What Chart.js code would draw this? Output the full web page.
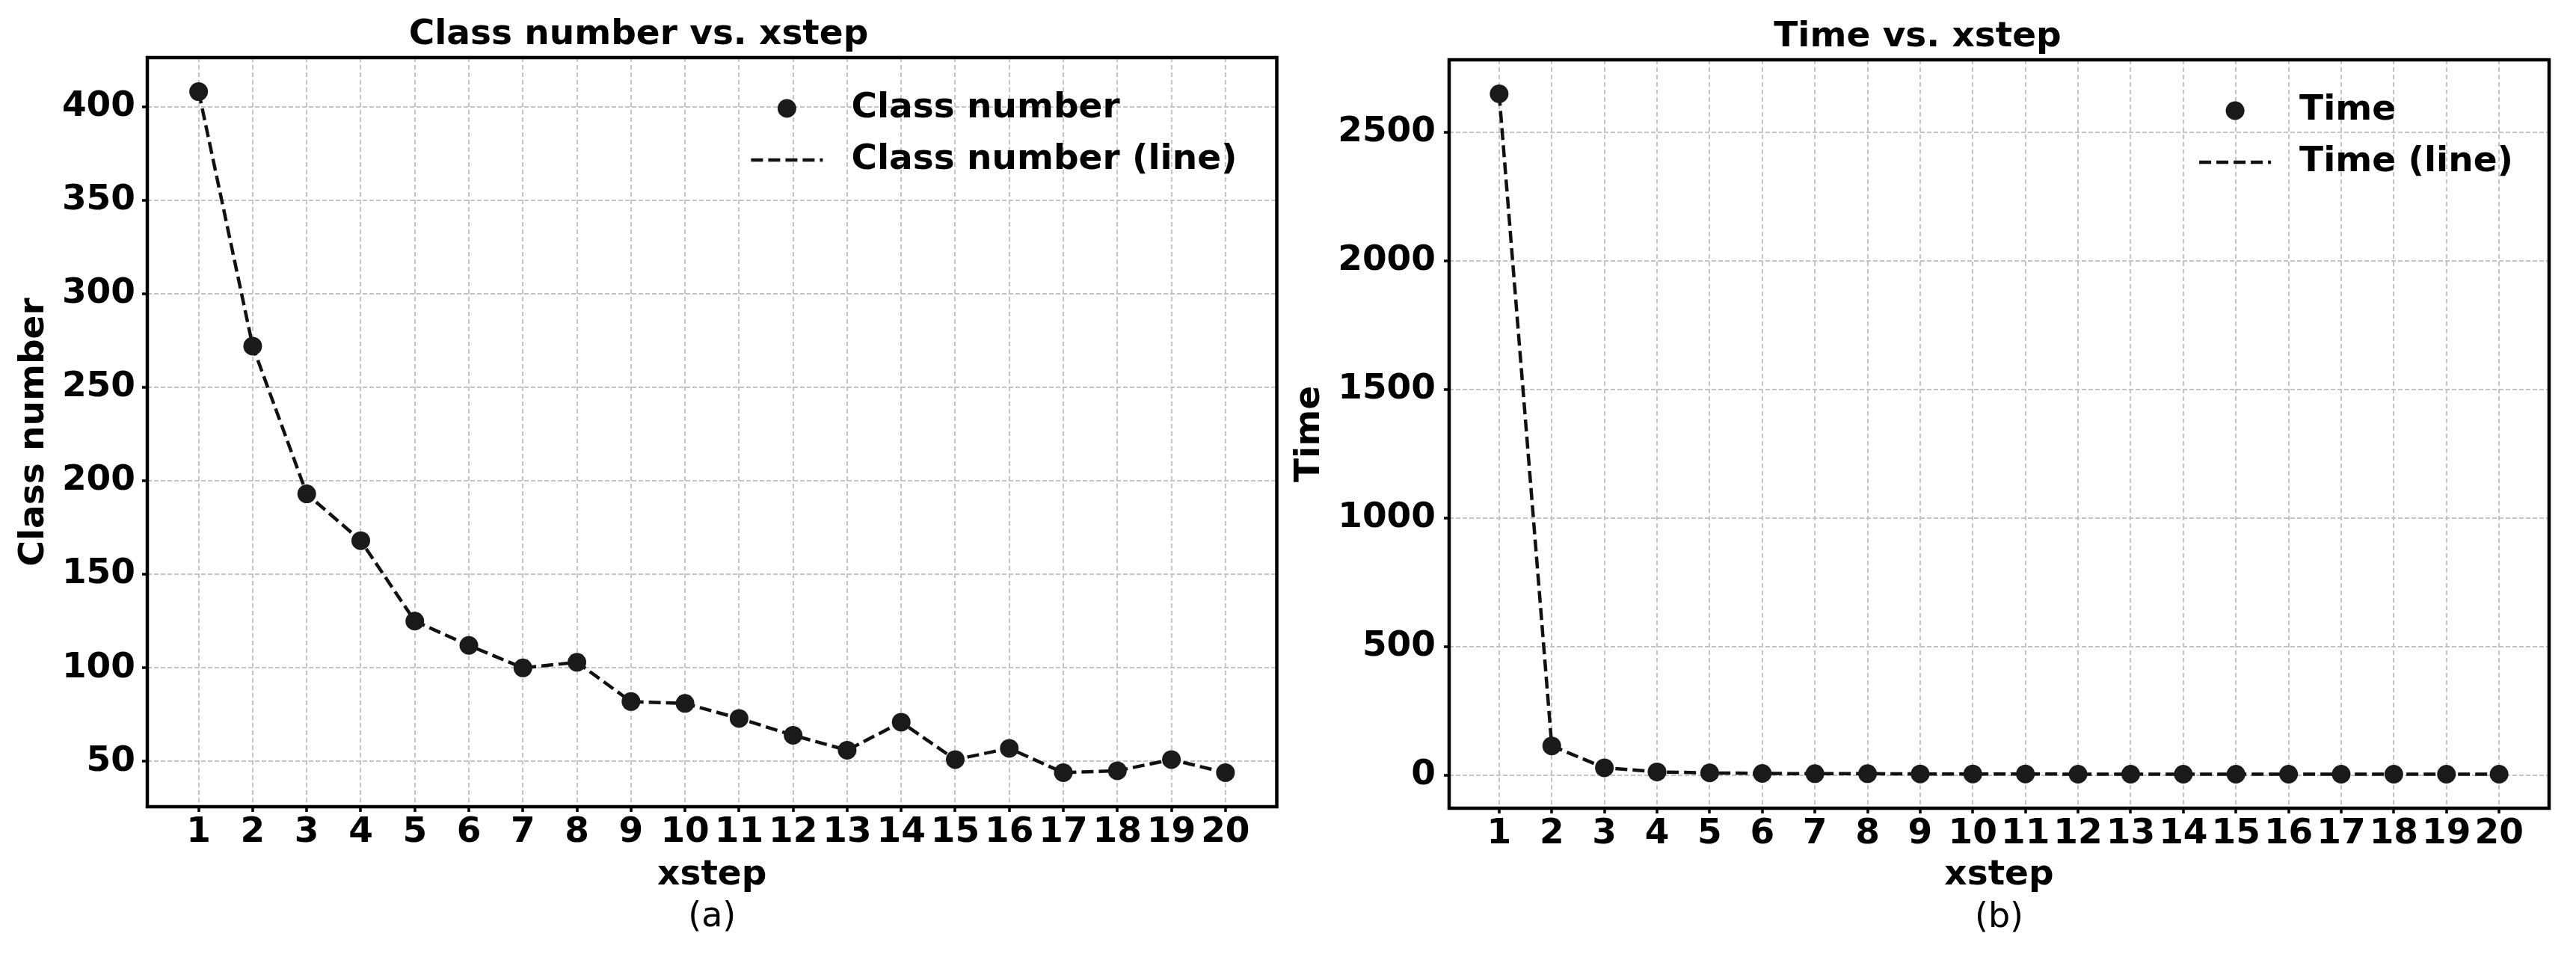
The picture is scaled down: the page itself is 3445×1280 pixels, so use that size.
<!DOCTYPE html>
<html>
<head>
<meta charset="utf-8">
<script src="https://cdn.jsdelivr.net/npm/chart.js@4.4.1/dist/chart.umd.min.js"></script>
<style>
html, body { margin: 0; padding: 0; background: #fff; width: 3445px; height: 1280px; overflow: hidden; }
canvas { position: absolute; top: 0; }
</style>
</head>
<body>
<canvas id="c1" width="1720" height="1280" style="left:0px"></canvas>
<canvas id="c2" width="1725" height="1280" style="left:1720px"></canvas>
<script>
// ---- data ----
const xSteps = [1, 2, 3, 4, 5, 6, 7, 8, 9, 10, 11, 12, 13, 14, 15, 16, 17, 18, 19, 20];
const classNumber = [408, 272, 193, 168, 125, 112, 100, 103, 82, 81, 73, 64, 56, 71, 51, 57, 44, 45, 51, 44];
const timeValues = [2650, 113, 28, 12, 8, 6, 5, 5, 4, 4, 4, 3, 3, 3, 3, 3, 3, 3, 3, 3];
const classTicks = [50, 100, 150, 200, 250, 300, 350, 400];
const timeTicks = [0, 500, 1000, 1500, 2000, 2500];

const FAMILY = '"DejaVu Sans", "Liberation Sans", sans-serif';
const MARK = '#1a1a1a';

const decor = {
  id: 'decor',
  afterDatasetsDraw(chart, args, o) {
    const { ctx, chartArea: a } = chart;
    ctx.save();
    // axes frame
    ctx.setLineDash([]);
    ctx.strokeStyle = '#000';
    ctx.lineWidth = 4.5;
    ctx.strokeRect(a.left, a.top, a.right - a.left, a.bottom - a.top);
    // legend
    const ds = chart.data.datasets;
    ctx.font = 'bold 47px ' + FAMILY;
    const w = Math.max(...ds.map(d => ctx.measureText(d.label).width));
    const tx = a.right - o.legendRight - w;
    const hx2 = tx - 38, hx1 = hx2 - 96;
    const r0 = a.top + 68, r1 = a.top + 137;
    ctx.fillStyle = ds[0].backgroundColor;
    ctx.beginPath();
    ctx.arc((hx1 + hx2) / 2, r0, ds[0].pointRadius, 0, Math.PI * 2);
    ctx.fill();
    ctx.strokeStyle = ds[1].borderColor;
    ctx.lineWidth = ds[1].borderWidth;
    ctx.setLineDash(ds[1].borderDash);
    ctx.beginPath();
    ctx.moveTo(hx1, r1);
    ctx.lineTo(hx2, r1);
    ctx.stroke();
    ctx.setLineDash([]);
    ctx.fillStyle = '#000';
    ctx.textAlign = 'left';
    ctx.textBaseline = 'middle';
    ctx.fillText(ds[0].label, tx, r0);
    ctx.fillText(ds[1].label, tx, r1);
    // sub caption
    ctx.font = '46px ' + FAMILY;
    ctx.textAlign = 'center';
    ctx.textBaseline = 'alphabetic';
    ctx.fillText(o.sub, (a.left + a.right) / 2, o.subBaseline);
    ctx.restore();
  }
};

function makeChart(id, cfg) {
  const vals = cfg.values;
  const vMin = Math.min(...vals), vMax = Math.max(...vals);
  const yPad = (vMax - vMin) * 0.05;
  const xPad = (xSteps[xSteps.length - 1] - xSteps[0]) * 0.05;
  const gridColor = '#c4c4c4';
  return new Chart(document.getElementById(id), {
    type: 'scatter',
    data: {
      datasets: [
        {
          label: cfg.name,
          data: xSteps.map((x, i) => ({ x: x, y: vals[i] })),
          showLine: false,
          pointRadius: 12.5,
          pointHoverRadius: 12.5,
          pointBorderWidth: 0,
          backgroundColor: MARK,
          borderColor: MARK
        },
        {
          label: cfg.name + ' (line)',
          data: xSteps.map((x, i) => ({ x: x, y: vals[i] })),
          showLine: true,
          pointRadius: 0,
          pointHoverRadius: 0,
          borderColor: '#111',
          backgroundColor: '#111',
          borderWidth: 4.5,
          borderDash: [16, 7],
          tension: 0
        }
      ]
    },
    options: {
      responsive: false,
      devicePixelRatio: 1,
      animation: false,
      events: [],
      layout: { padding: { left: 0, right: cfg.padRight, top: 0, bottom: 0 } },
      plugins: {
        legend: { display: false },
        tooltip: { enabled: false },
        title: {
          display: true,
          text: cfg.title,
          color: '#000',
          font: { family: FAMILY, size: 47, weight: 'bold', lineHeight: 1 },
          padding: { top: cfg.titleTop, bottom: cfg.titleBottom }
        },
        decor: { legendRight: cfg.legendRight, sub: cfg.sub, subBaseline: cfg.subBaseline }
      },
      scales: {
        x: {
          type: 'linear',
          min: xSteps[0] - xPad,
          max: xSteps[xSteps.length - 1] + xPad,
          afterBuildTicks: s => { s.ticks = xSteps.map(v => ({ value: v })); },
          afterFit: s => { s.height = cfg.xHeight; },
          ticks: {
            autoSkip: false,
            maxRotation: 0,
            minRotation: 0,
            padding: 0,
            color: '#000',
            font: { family: FAMILY, size: 47, weight: 'bold', lineHeight: 1.2 },
            callback: v => String(v)
          },
          grid: {
            color: gridColor,
            lineWidth: 2,
            tickLength: 7,
            tickColor: '#000',
            tickWidth: 3.5,
            tickBorderDash: []
          },
          border: { display: false, dash: [6, 4] },
          title: {
            display: true,
            text: 'xstep',
            color: '#000',
            font: { family: FAMILY, size: 47, weight: 'bold', lineHeight: 1.2 },
            padding: { top: 0, bottom: 81 }
          }
        },
        y: {
          type: 'linear',
          min: vMin - yPad,
          max: vMax + yPad,
          afterBuildTicks: s => { s.ticks = cfg.ticks.map(v => ({ value: v })); },
          afterFit: s => { s.width = cfg.yWidth; },
          ticks: {
            padding: cfg.yTickPad,
            color: '#000',
            font: { family: FAMILY, size: 47, weight: 'bold', lineHeight: 1.2 },
            callback: v => String(v)
          },
          grid: {
            color: gridColor,
            lineWidth: 2,
            tickLength: 7,
            tickColor: '#000',
            tickWidth: 3.5,
            tickBorderDash: []
          },
          border: { display: false, dash: [6, 3] },
          title: {
            display: true,
            text: cfg.name,
            color: '#000',
            font: { family: FAMILY, size: 47, weight: 'bold', lineHeight: 1.2 },
            padding: { top: cfg.yTitlePad, bottom: 0 }
          }
        }
      }
    },
    plugins: [decor]
  });
}

makeChart('c1', {
  name: 'Class number',
  title: 'Class number vs. xstep',
  values: classNumber,
  ticks: classTicks,
  padRight: 12,
  yWidth: 197,
  xHeight: 201,
  titleTop: 23,
  titleBottom: 7,
  yTickPad: 9,
  yTitlePad: 17.5,
  legendRight: 53,
  sub: '(a)',
  subBaseline: 1239
});

makeChart('c2', {
  name: 'Time',
  title: 'Time vs. xstep',
  values: timeValues,
  ticks: timeTicks,
  padRight: 36,
  yWidth: 218,
  xHeight: 199,
  titleTop: 26.5,
  titleBottom: 6.5,
  yTickPad: 11,
  yTitlePad: 4,
  legendRight: 48,
  sub: '(b)',
  subBaseline: 1240
});
</script>
</body>
</html>
